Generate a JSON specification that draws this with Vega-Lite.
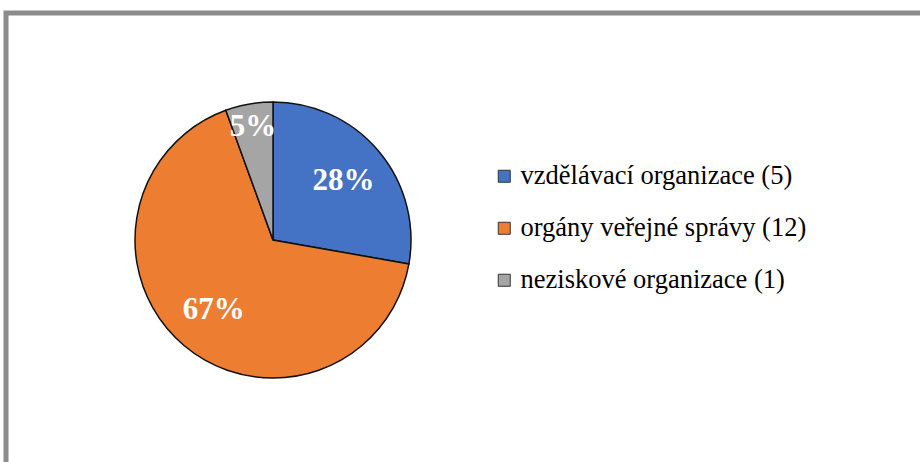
{
  "$schema": "https://vega.github.io/schema/vega-lite/v6.json",
  "width": 940,
  "height": 470,
  "autosize": "none",
  "padding": {"left": 6, "top": 13, "right": 0, "bottom": 0},
  "background": "white",
  "config": {"font": "Liberation Serif", "legend": {"labelFont": "Liberation Serif"}},
  "data": {
    "values": [
      {"k": 1, "kategorie": "vzdělávací organizace (5)", "n": 5, "pct": "28%"},
      {"k": 2, "kategorie": "orgány veřejné správy (12)", "n": 12, "pct": "67%"},
      {"k": 3, "kategorie": "neziskové organizace (1)", "n": 1, "pct": "5%"}
    ]
  },
  "layer": [
    {
      "data": {"values": [{"frame": 1}]},
      "mark": {"type": "rect", "fill": null, "stroke": "#8c8c8c", "strokeWidth": 5},
      "encoding": {}
    },
    {
      "mark": {"type": "arc", "x": 267, "y": 227, "outerRadius": 138, "stroke": "#111111", "strokeWidth": 1.5},
      "encoding": {
        "theta": {"field": "n", "type": "quantitative", "stack": true},
        "order": {"field": "k", "type": "quantitative"},
        "color": {
          "field": "kategorie",
          "type": "nominal",
          "scale": {
            "domain": ["vzdělávací organizace (5)", "orgány veřejné správy (12)", "neziskové organizace (1)"],
            "range": ["#4472C4", "#ED7D31", "#A5A5A5"]
          },
          "legend": {
            "orient": "none",
            "legendX": 485,
            "legendY": 150,
            "title": null,
            "padding": 0,
            "symbolType": "square",
            "symbolSize": 144,
            "symbolStrokeColor": "#333333",
            "symbolStrokeWidth": 1,
            "labelFont": "Liberation Serif",
            "labelFontSize": 26.5,
            "labelColor": "#000000",
            "labelOffset": 3,
            "rowPadding": 25,
            "labelLimit": 400
          }
        }
      }
    },
    {
      "mark": {"type": "text", "x": 267, "y": 227, "radius": 92, "font": "Liberation Serif", "fontWeight": "bold", "fontSize": 31, "fill": "white", "align": "center", "baseline": "middle"},
      "encoding": {
        "theta": {"field": "n", "type": "quantitative", "stack": true},
        "order": {"field": "k", "type": "quantitative"},
        "text": {"condition": {"test": "datum.n == 1", "value": ""}, "field": "pct", "type": "nominal"}
      }
    },
    {
      "mark": {"type": "text", "x": 267, "y": 227, "radius": 115, "font": "Liberation Serif", "fontWeight": "bold", "fontSize": 31, "fill": "white", "align": "center", "baseline": "middle"},
      "encoding": {
        "theta": {"field": "n", "type": "quantitative", "stack": true},
        "order": {"field": "k", "type": "quantitative"},
        "text": {"condition": {"test": "datum.n != 1", "value": ""}, "field": "pct", "type": "nominal"}
      }
    }
  ]
}
